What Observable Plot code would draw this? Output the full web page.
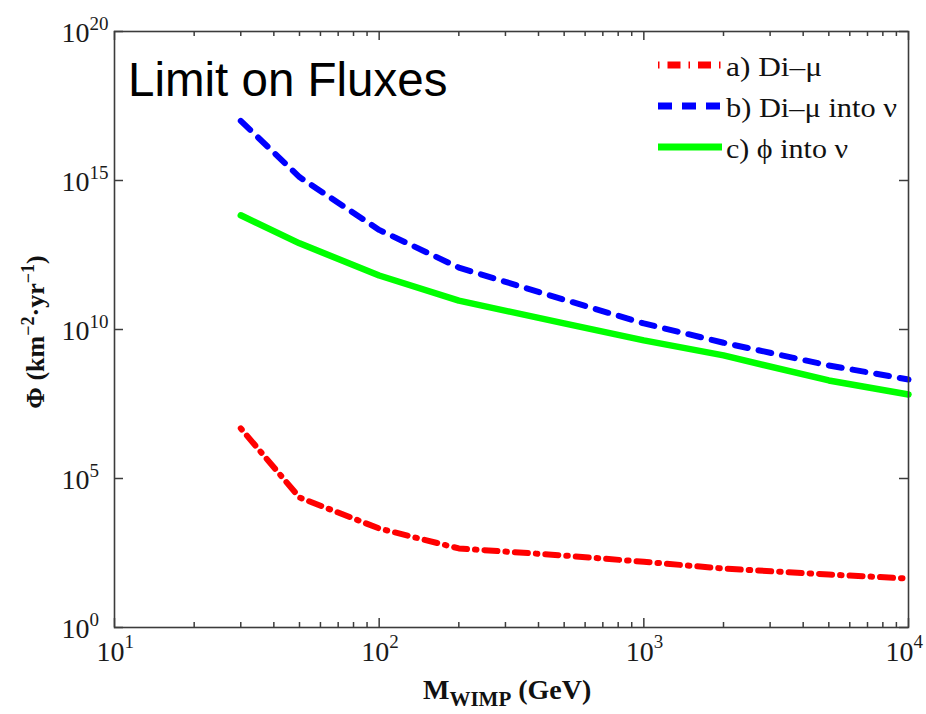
<!DOCTYPE html>
<html><head><meta charset="utf-8">
<script src="https://cdn.jsdelivr.net/npm/d3@7"></script>
<script src="https://cdn.jsdelivr.net/npm/@observablehq/plot@0.6"></script>
<style>
body{margin:0;background:#fff;}
#wrap{position:relative;width:926px;height:714px;overflow:hidden;background:#fff;}
#overlay{position:absolute;left:0;top:0;pointer-events:none;}
</style></head><body><div id="wrap"></div>
<script>
// WIMP mass (GeV)
const mass = [30, 50, 100, 200, 500, 1000, 2000, 5000, 10000];
// flux limits (km^-2 yr^-1)
const fluxDiMu   = [4.8e6, 2.3e4, 2.1e3, 4.5e2, 2.6e2, 1.6e2, 95, 60, 44];
const fluxDiMuNu = [1.0e17, 1.3e15, 2.2e13, 1.2e12, 1.0e11, 1.6e10, 3.6e9, 6.2e8, 2.1e8];
const fluxPhiNu  = [6.8e13, 7.8e12, 6.5e11, 9.3e10, 1.6e10, 4.3e9, 1.35e9, 1.95e8, 6.6e7];
const seriesNames = ["a) Di–μ", "b) Di–μ into ν", "c) ϕ into ν"];
const seriesColors = ["#ff0000", "#0000ff", "#00ff00"];
const xMajorExp = [1, 2, 3, 4];
const yMajorExp = [0, 5, 10, 15, 20];
const xMinorTicks = [20,30,40,50,60,70,80,90,200,300,400,500,600,700,800,900,2000,3000,4000,5000,6000,7000,8000,9000];
const chartTitle = "Limit on Fluxes";

const W = 926, H = 714, ML = 114, MR = 18, MT = 31, MB = 87;
const ink = "#3c3c3c";
const serif = "'Liberation Serif','Times New Roman',serif";
const rowsOf = arr => mass.map((m, i) => ({m, f: arr[i]}));

const xMajor = xMajorExp.map(e => 10 ** e);
const yMajor = yMajorExp.map(e => 10 ** e);
const labelStyle = {fontFamily: serif, fill: "#1a1a1a"};
const xInner = xMajorExp.slice(0, -1), xLast = xMajorExp.slice(-1);

// inward tick lengths (pixels) expressed along the log scales
const decPerPxX = 3 / (W - ML - MR), decPerPxY = 20 / (H - MT - MB);
const tk = {stroke: ink, strokeWidth: 1.5};
const xTicks = (vals, len) => [
  Plot.ruleX(vals, {x: d => d, y1: 1, y2: 10 ** (len * decPerPxY), ...tk}),
  Plot.ruleX(vals, {x: d => d, y1: 1e20, y2: 10 ** (20 - len * decPerPxY), ...tk})
];
const yTicks = (vals, len) => [
  Plot.ruleY(vals, {y: d => d, x1: 10, x2: 10 ** (1 + len * decPerPxX), ...tk}),
  Plot.ruleY(vals, {y: d => d, x1: 1e4, x2: 10 ** (4 - len * decPerPxX), ...tk})
];

const chart = Plot.plot({
  width: W, height: H,
  marginLeft: ML, marginRight: MR, marginTop: MT, marginBottom: MB,
  x: {type: "log", domain: [10, 1e4], axis: null},
  y: {type: "log", domain: [1, 1e20], axis: null},
  style: {background: "white", overflow: "visible"},
  marks: [
    Plot.line(rowsOf(fluxDiMu), {x: "m", y: "f", stroke: seriesColors[0], strokeWidth: 6, strokeDasharray: "1.5,8,13,8"}),
    Plot.line(rowsOf(fluxDiMuNu), {x: "m", y: "f", stroke: seriesColors[1], strokeWidth: 6, strokeDasharray: "13,11"}),
    Plot.line(rowsOf(fluxPhiNu), {x: "m", y: "f", stroke: seriesColors[2], strokeWidth: 6.5}),
    ...xTicks(xMajor, 9),
    ...xTicks(xMinorTicks, 5),
    ...yTicks(yMajor, 9),
    Plot.frame({stroke: ink, strokeWidth: 1.6}),
    Plot.text(xInner, {x: d => 10 ** d, frameAnchor: "bottom", text: () => "10", textAnchor: "end", dx: 10, dy: 33, fontSize: 28, ...labelStyle}),
    Plot.text(xInner, {x: d => 10 ** d, frameAnchor: "bottom", text: d => String(d), textAnchor: "start", dx: 10, dy: 20, fontSize: 19, ...labelStyle}),
    Plot.text(xLast, {x: d => 10 ** d, frameAnchor: "bottom", text: () => "10", textAnchor: "end", dx: 5, dy: 33, fontSize: 28, ...labelStyle}),
    Plot.text(xLast, {x: d => 10 ** d, frameAnchor: "bottom", text: d => String(d), textAnchor: "start", dx: 5, dy: 20, fontSize: 19, ...labelStyle}),
    Plot.text(yMajorExp, {y: d => 10 ** d, frameAnchor: "left", text: () => "10", textAnchor: "end", dx: -25, dy: 2, fontSize: 28, ...labelStyle}),
    Plot.text(yMajorExp, {y: d => 10 ** d, frameAnchor: "left", text: d => String(d), textAnchor: "start", dx: -25, dy: -8, fontSize: 19, ...labelStyle})
  ]
});
document.getElementById("wrap").appendChild(chart);

// overlay: title, legend, axis titles
const ov = d3.select("#wrap").append("svg").attr("id", "overlay").attr("width", W).attr("height", H);
ov.append("text").attr("x", 128).attr("y", 96)
  .attr("font-family", "'Liberation Sans',Arial,sans-serif").attr("font-size", 47.5).attr("fill", "#000")
  .text(chartTitle);

const legendY = [65, 106, 147];
const legendDash = ["1.5,8,13,8", "14,10", null];
const legendTextLen = [96, 171, 122];
seriesNames.forEach((name, i) => {
  const ln = ov.append("line").attr("x1", 658).attr("x2", 722).attr("y1", legendY[i]).attr("y2", legendY[i])
    .attr("stroke", seriesColors[i]).attr("stroke-width", 7);
  if (legendDash[i]) ln.attr("stroke-dasharray", legendDash[i]);
  ov.append("text").attr("x", 726).attr("y", legendY[i] + 11)
    .attr("font-family", serif).attr("font-size", 27).attr("fill", "#111")
    .attr("textLength", legendTextLen[i]).attr("lengthAdjust", "spacingAndGlyphs")
    .text(name);
});

// y title
const yt = ov.append("text").attr("transform", "translate(44,332) rotate(-90)")
  .attr("text-anchor", "middle").attr("font-family", serif).attr("font-weight", "bold")
  .attr("font-size", 26).attr("fill", "#111");
yt.append("tspan").text("Φ (km");
yt.append("tspan").attr("dy", -10).attr("font-size", 18).text("−2");
yt.append("tspan").attr("dy", 10).text("·yr");
yt.append("tspan").attr("dy", -10).attr("font-size", 18).text("−1");
yt.append("tspan").attr("dy", 10).text(")");

// x title
const xt = ov.append("text").attr("x", 423).attr("y", 699)
  .attr("font-family", serif).attr("font-weight", "bold").attr("font-size", 28).attr("fill", "#111");
xt.append("tspan").text("M");
xt.append("tspan").attr("dy", 7).attr("font-size", 21).text("WIMP");
xt.append("tspan").attr("dy", -7).text(" (GeV)");
</script></body></html>
